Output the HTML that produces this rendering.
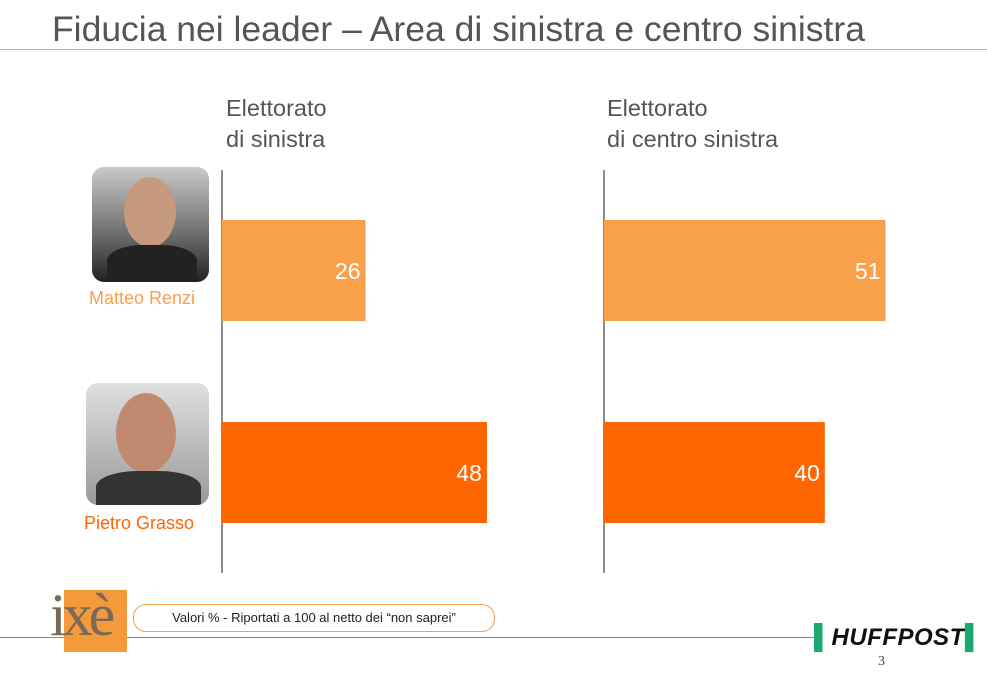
<!DOCTYPE html>
<html><head><meta charset="utf-8"><style>
body{margin:0;width:987px;height:682px;background:#fff;position:relative;overflow:hidden;font-family:"Liberation Sans",sans-serif}
.abs{position:absolute}
</style></head><body>
<div class="abs" style="left:52px;top:9px;font-size:35.5px;color:#555;white-space:nowrap">Fiducia nei leader – Area di sinistra e centro sinistra</div>
<div class="abs" style="left:0;top:49px;width:987px;height:1px;background:#F0B050"></div>
<div class="abs" style="left:226px;top:93px;font-size:23.5px;line-height:31px;color:#555">Elettorato<br>di sinistra</div>
<div class="abs" style="left:607px;top:93px;font-size:23.5px;line-height:31px;color:#555">Elettorato<br>di centro sinistra</div>
<div class="abs" style="left:92px;top:167px;width:117px;height:115px;border-radius:12px;background:linear-gradient(#c9c9c9,#6b6b6b 60%,#222);overflow:hidden"><div style="position:absolute;left:32px;top:10px;width:52px;height:70px;border-radius:50%;background:#c79a80"></div><div style="position:absolute;left:15px;top:78px;width:90px;height:40px;border-radius:40% 40% 0 0;background:#222"></div></div>
<div class="abs" style="left:89px;top:288px;font-size:18px;color:#F7A04C">Matteo Renzi</div>
<div class="abs" style="left:86px;top:383px;width:123px;height:122px;border-radius:12px;background:linear-gradient(#e0e0e0,#999);overflow:hidden"><div style="position:absolute;left:30px;top:10px;width:60px;height:80px;border-radius:50%;background:#c08a70"></div><div style="position:absolute;left:10px;top:88px;width:105px;height:40px;border-radius:40% 40% 0 0;background:#333"></div></div>
<div class="abs" style="left:84px;top:513px;font-size:18px;color:#FF6600">Pietro Grasso</div>
<svg class="abs" style="left:0;top:0" width="987" height="682" id="chart"></svg>
<div class="abs" style="left:0;top:637px;width:820px;height:1px;background:#888"></div>
<div class="abs" style="left:64px;top:590px;width:63px;height:62px;background:#F39A3C"></div>
<div class="abs" style="left:50px;top:582px;font-family:'Liberation Serif',serif;font-size:60px;line-height:66px;color:#7a6a55;letter-spacing:-4px">ixè</div>
<div class="abs" style="left:133px;top:604px;width:360px;height:26px;border:1px solid #F3A050;border-radius:13px;font-size:13px;line-height:26px;text-align:center;color:#222">Valori % - Riportati a 100 al netto dei “non saprei”</div>
<div class="abs" style="left:814px;top:624px;font-size:24px;font-weight:bold;font-style:italic;color:#111;letter-spacing:0.5px;white-space:nowrap"><span style="color:#1CA870">▌</span>HUFFPOST<span style="color:#1CA870">▌</span></div>
<div class="abs" style="left:878px;top:654px;font-family:'Liberation Serif',serif;font-size:14px;color:#444">3</div>
<script>
const leaders=["Matteo Renzi","Pietro Grasso"];
const sinistra=[26,48];
const centroSinistra=[51,40];
const colors=["#F9A04A","#FF6600"];
const svg=document.getElementById('chart');
const NS="http://www.w3.org/2000/svg";
const scale=v=>v*5.52;
const rowY=i=>220+i*202;
function panel(x0,vals,name){
  const ax=document.createElementNS(NS,'line');
  ax.setAttribute('x1',x0);ax.setAttribute('x2',x0);ax.setAttribute('y1',170);ax.setAttribute('y2',573);
  ax.setAttribute('stroke','#666');ax.setAttribute('stroke-width','1.5');
  
  
  svg.appendChild(ax);
  vals.forEach((v,i)=>{
    const r=document.createElementNS(NS,'rect');
    r.setAttribute('x',x0);r.setAttribute('y',rowY(i));r.setAttribute('width',scale(v));r.setAttribute('height',101);
    r.setAttribute('fill',colors[i]);
    
    
    svg.appendChild(r);
    const t=document.createElementNS(NS,'text');
    t.setAttribute('x',x0+scale(v)-5);t.setAttribute('y',rowY(i)+59);t.setAttribute('text-anchor','end');
    t.setAttribute('fill','#fff');t.setAttribute('font-size','23');t.setAttribute('font-family','Liberation Sans, sans-serif');
    t.textContent=v;
    
    
    svg.appendChild(t);
  });
}
panel(222,sinistra,'sinistra');
panel(604,centroSinistra,'centro-sinistra');
</script>
</body></html>
